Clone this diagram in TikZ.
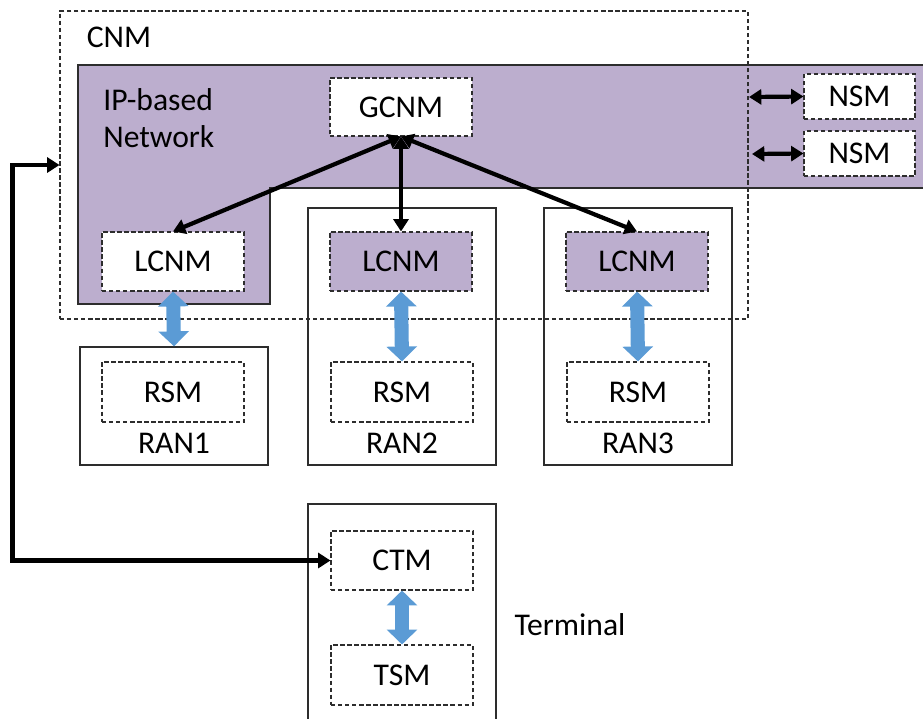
\documentclass[tikz,border=0pt]{standalone}
\usepackage{fontspec}
\setmainfont{Carlito}
\usetikzlibrary{arrows.meta,fit,positioning}
\definecolor{ipnet}{RGB}{188,174,206}
\definecolor{fatblue}{RGB}{91,155,213}
\definecolor{edgegray}{RGB}{45,45,45}
\tikzset{
  dbox/.style={draw=edgegray, dash pattern=on 2.5pt off 1.5pt, line width=0.6pt, inner sep=0pt},
  sbox/.style={draw=edgegray, line width=0.8pt, inner sep=0pt},
  conn/.style={line width=2.4pt, {Triangle[length=7pt,width=8.5pt]}-{Triangle[length=7pt,width=8.5pt]}},
  fatarr/.style={fatblue, line width=8pt, {Triangle[length=8.5pt,width=17pt]}-{Triangle[length=8.5pt,width=17pt]}}
}
\begin{document}
\begin{tikzpicture}[x=0.02cm, y=-0.02cm, font=\fontsize{18}{21}\selectfont]
	\useasboundingbox (0,0) rectangle (923,718);
	% IP-based network
	\fill[ipnet] (925,65) -- (78,65) -- (78,304) -- (270,304) -- (270,188) -- (925,188) -- cycle;
	\draw[edgegray, line width=0.8pt] (925,65) -- (78,65) -- (78,304) -- (270,304) -- (270,188) -- (925,188);
	\node[anchor=west, align=left, inner sep=0pt] (ipnet) at (103,118) {IP-based\\Network};
	% CNM
	\node[dbox, fit={(60,11) (748,319)}] (cnm) {};
	\node (cnmlbl) at (119,37) {CNM};
	\node[dbox, fill=white, fit={(330,78) (472,136)}, label=center:GCNM] (gcnm) {};
	\node[dbox, fill=white, fit={(804,74) (915,119)}, label=center:NSM] (nsm1) {};
	\node[dbox, fill=white, fit={(804,131) (915,176)}, label=center:NSM] (nsm2) {};
	% RANs
	\node[sbox, fit={(80,347) (268,465)}] (ran1) {};
	\node[sbox, fit={(308,208) (496,465)}] (ran2) {};
	\node[sbox, fit={(544,208) (732,465)}] (ran3) {};
	\node[dbox, fill=white, fit={(102,232) (244,291)}, label=center:LCNM] (lcnm1) {};
	\node[dbox, fill=ipnet, fit={(330,232) (472,291)}, label=center:LCNM] (lcnm2) {};
	\node[dbox, fill=ipnet, fit={(566,232) (708,291)}, label=center:LCNM] (lcnm3) {};
	\node[dbox, fit={(102,362) (244,422)}, label=center:RSM] (rsm1) {};
	\node[dbox, fit={(331,362) (473,422)}, label=center:RSM] (rsm2) {};
	\node[dbox, fit={(567,362) (709,422)}, label=center:RSM] (rsm3) {};
	\node (ran1lbl) at (174,443) {RAN1};
	\node (ran2lbl) at (402,443) {RAN2};
	\node (ran3lbl) at (638,443) {RAN3};
	% Terminal
	\node[sbox, fit={(308,504) (496,730)}] (term) {};
	\node[dbox, fit={(331,531) (473,590)}, label=center:CTM] (ctm) {};
	\node[dbox, fit={(331,645) (473,705)}, label=center:TSM] (tsm) {};
	\node (termlbl) at (570,625) {Terminal};
	% connectors
	\coordinate (cnme1) at (749,97);
	\coordinate (cnme2) at (752,154);
	\draw[conn] (cnme1) -- (nsm1.west);
	\draw[conn] (cnme2) -- (nsm2.west);
	\draw[conn] (gcnm.south) -- (lcnm1.north);
	\draw[conn] (gcnm.south) -- (lcnm2.north);
	\draw[conn] (gcnm.south) -- (lcnm3.north);
	\draw[conn] (cnm.west) -- ++(-47,0) |- (ctm.west);
	\draw[fatarr] (lcnm1.south) -- (ran1.north);
	\draw[fatarr] (lcnm2.south) -- (rsm2.north);
	\draw[fatarr] (lcnm3.south) -- (rsm3.north);
	\draw[fatarr] (ctm.south) -- (tsm.north);
\end{tikzpicture}
\end{document}
